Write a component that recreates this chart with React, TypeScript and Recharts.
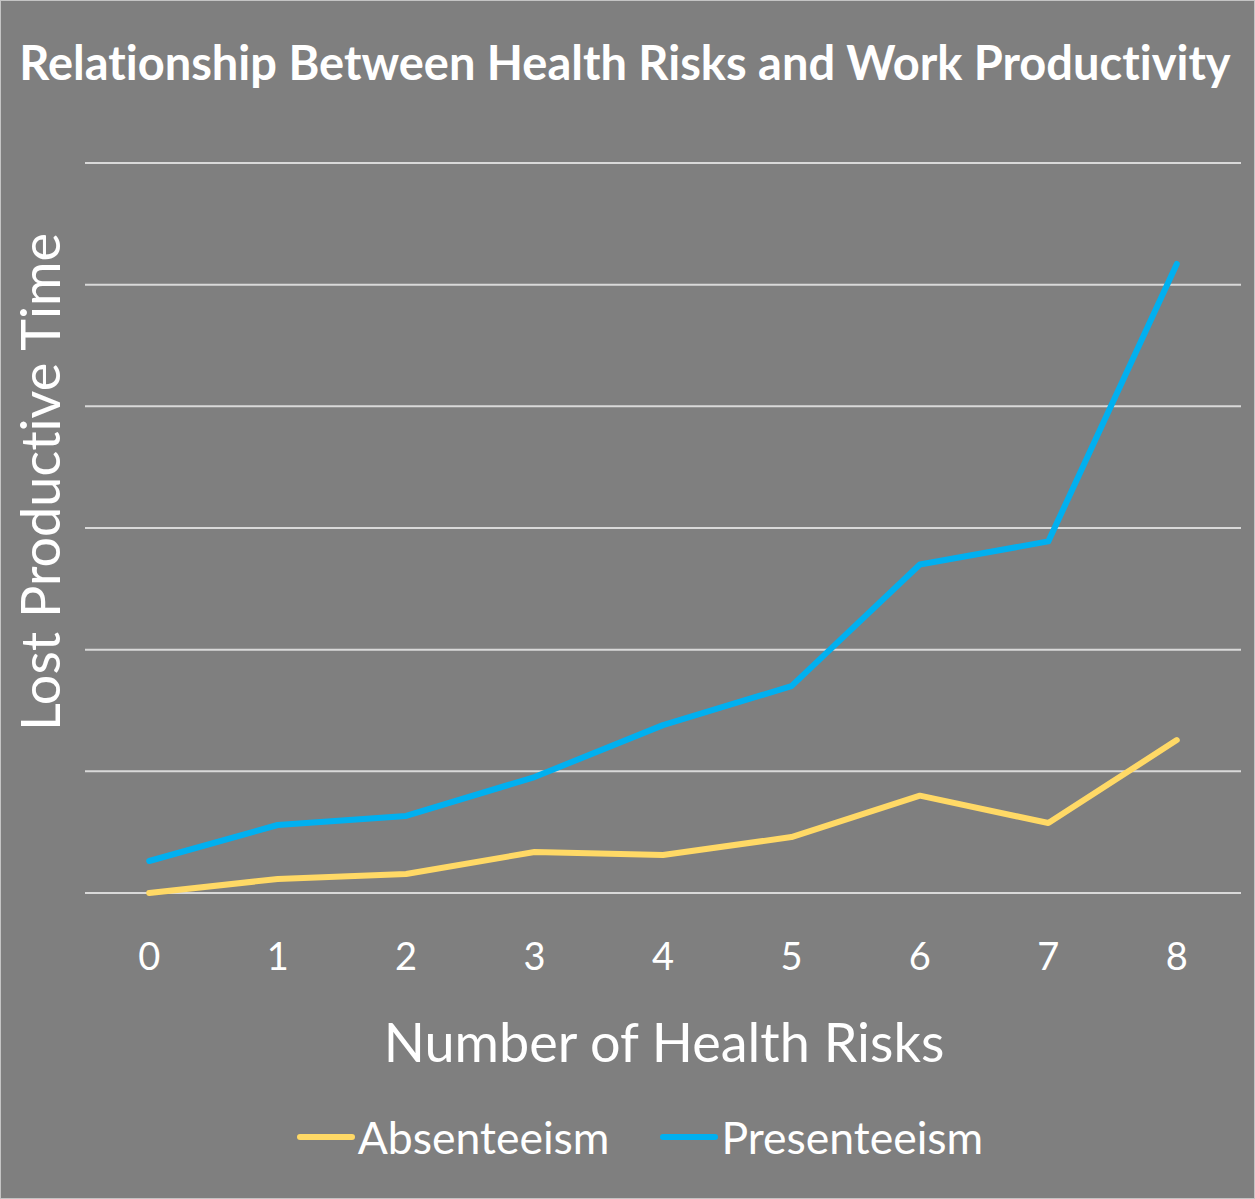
import { LineChart, Line, XAxis, YAxis, CartesianGrid, Legend, Customized } from 'recharts'

const risks = [0, 1, 2, 3, 4, 5, 6, 7, 8]
const absenteeism = [0, 0.115, 0.156, 0.337, 0.312, 0.46, 0.8, 0.575, 1.257]
const presenteeism = [0.263, 0.559, 0.633, 0.953, 1.38, 1.7, 2.7, 2.89, 5.17]
const yTicks = [0, 1, 2, 3, 4, 5, 6]

const data = risks.map((r, i) => ({
  risks: r,
  absenteeism: absenteeism[i],
  presenteeism: presenteeism[i],
}))

const FONT = "Lato, 'Open Sans', sans-serif"
const BG = '#7f7f7f'
const YELLOW = '#ffd966'
const BLUE = '#00b0f0'

const series = [
  { key: 'absenteeism', name: 'Absenteeism', color: YELLOW },
  { key: 'presenteeism', name: 'Presenteeism', color: BLUE },
]

function Titles() {
  return (
    <g fontFamily={FONT} fill="#fff" style={{ fontVariantLigatures: 'none' }}>
      <text x={625} y={80} textAnchor="middle" fontSize={47} fontWeight={700}>
        Relationship Between Health Risks and Work Productivity
      </text>
      <text x={664} y={1062} textAnchor="middle" fontSize={54}>
        Number of Health Risks
      </text>
      <text
        x={0}
        y={0}
        transform="translate(60, 482) rotate(-90)"
        textAnchor="middle"
        fontSize={54}
      >
        Lost Productive Time
      </text>
    </g>
  )
}

function LegendContent() {
  return (
    <div
      style={{
        display: 'flex',
        justifyContent: 'center',
        gap: 51,
        fontFamily: FONT,
        fontSize: 44.5,
        color: '#fff',
        paddingLeft: 25,
        fontVariantLigatures: 'none',
      }}
    >
      {series.map((s) => (
        <div key={s.key} style={{ display: 'flex', alignItems: 'center', gap: 3 }}>
          <svg width={58} height={10}>
            <line x1={3} y1={5} x2={55} y2={5} stroke={s.color} strokeWidth={6} strokeLinecap="round" />
          </svg>
          <span>{s.name}</span>
        </div>
      ))}
    </div>
  )
}

export default function App() {
  return (
    <div
      style={{
        position: 'absolute',
        top: 0,
        left: 0,
        width: 1255,
        height: 1199,
        background: BG,
        boxShadow: 'inset 0 0 0 1px #c4c4c4',
      }}
    >
      <LineChart
        width={1255}
        height={1199}
        data={data}
        margin={{ top: 163, right: 14, bottom: 0, left: 85 }}
      >
        <CartesianGrid vertical={false} stroke="#d9d9d9" strokeWidth={2} />
        <XAxis
          dataKey="risks"
          type="number"
          domain={[-0.5, 8.5]}
          ticks={risks}
          height={306}
          axisLine={false}
          tickLine={false}
          tickMargin={44}
          tick={{ fill: '#fff', fontSize: 38, fontFamily: FONT }}
        />
        <YAxis
          domain={[0, 6]}
          ticks={yTicks}
          interval={0}
          width={0}
          tick={{ fill: 'none', fontSize: 1 }}
          axisLine={false}
          tickLine={false}
        />
        <Legend
          verticalAlign="middle"
          content={<LegendContent />}
          wrapperStyle={{ top: 1110, left: 0, width: 1255 }}
        />
        {series.map((s) => (
          <Line
            key={s.key}
            dataKey={s.key}
            name={s.name}
            stroke={s.color}
            strokeWidth={6}
            strokeLinecap="round"
            strokeLinejoin="round"
            dot={false}
            isAnimationActive={false}
          />
        ))}
        <Customized component={Titles} />
      </LineChart>
    </div>
  )
}
